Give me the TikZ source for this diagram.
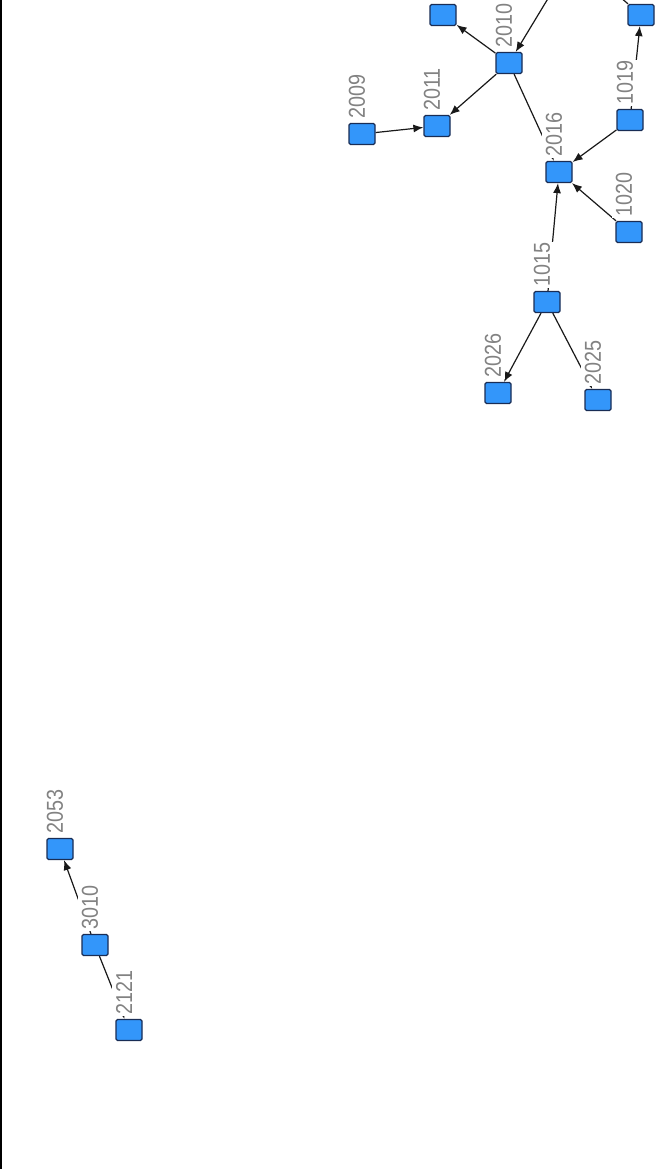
\documentclass[tikz,border=0pt]{standalone}
\usepackage{graphicx}
\usepackage{fontspec}
\setmainfont{Liberation Sans}
\usetikzlibrary{arrows.meta,positioning,backgrounds}
\definecolor{boxblue}{RGB}{51,150,250}
\definecolor{boxedge}{RGB}{25,45,85}
\definecolor{idgray}{RGB}{130,130,130}

\begin{document}
\begin{tikzpicture}[x=1pt,y=-1pt,
  nodebox/.style={draw=boxedge, fill=boxblue, line width=1.2pt, rounded corners=1.5pt,
    minimum width=26pt, minimum height=21pt, inner sep=0pt},
  idlabel/.style={rotate=90, anchor=west, fill=white, text=idgray,
    font=\fontsize{23}{23}\selectfont, inner xsep=1pt, inner ysep=4pt},
  link/.style={draw=black!90, line width=1.2pt},
  flow/.style={link, -{Latex[length=10pt,width=8pt]}}]
\useasboundingbox (0,0) rectangle (656,1169);
\clip (0,0) rectangle (656,1169);
\draw[line width=2pt] (1,0) -- (1,1169);

% boxes
\foreach \n/\x/\y in {A/443/15, B/641/15, 2010/509/63, 2011/437/126, 2009/362/134,
  2016/559/172, 1019/630/120, 1020/629/232, 1015/547/302, 2026/498/393,
  2025/598/400, 2053/60/849, 3010/95/945, 2121/129/1030}
  \node[nodebox] (n\n) at (\x,\y) {};
\coordinate (top1) at (558,-18);
\coordinate (top2) at (606,-15);

\begin{scope}[on background layer]
\draw[flow] (n2010) -- (nA);
\draw[flow] (top1) -- (n2010);
\draw[flow] (n2010) -- (n2011);
\draw[flow] (n2009) -- (n2011);
\draw[flow] (n2010) -- (n2016);
\draw[flow] (n1019) -- (n2016);
\draw[flow] (n1020) -- (n2016);
\draw[flow] (n1015) -- (n2016);
\draw[flow] (n1019) -- (nB);
\draw[link] (top2) -- (nB);
\draw[flow] (n1015) -- (n2026);
\draw[flow] (n1015) -- (n2025);
\draw[flow] (n3010) -- (n2053);
\draw[flow] (n3010) -- (n2121);

% labels
\foreach \n in {2010,2011,2009,2016,1019,1020,1015,2026,2025,2053,3010,2121}
  \node[idlabel] at ([xshift=-5pt,yshift=3pt]n\n.north) {\scalebox{0.86}[1]{\n}};
\end{scope}
\end{tikzpicture}
\end{document}
